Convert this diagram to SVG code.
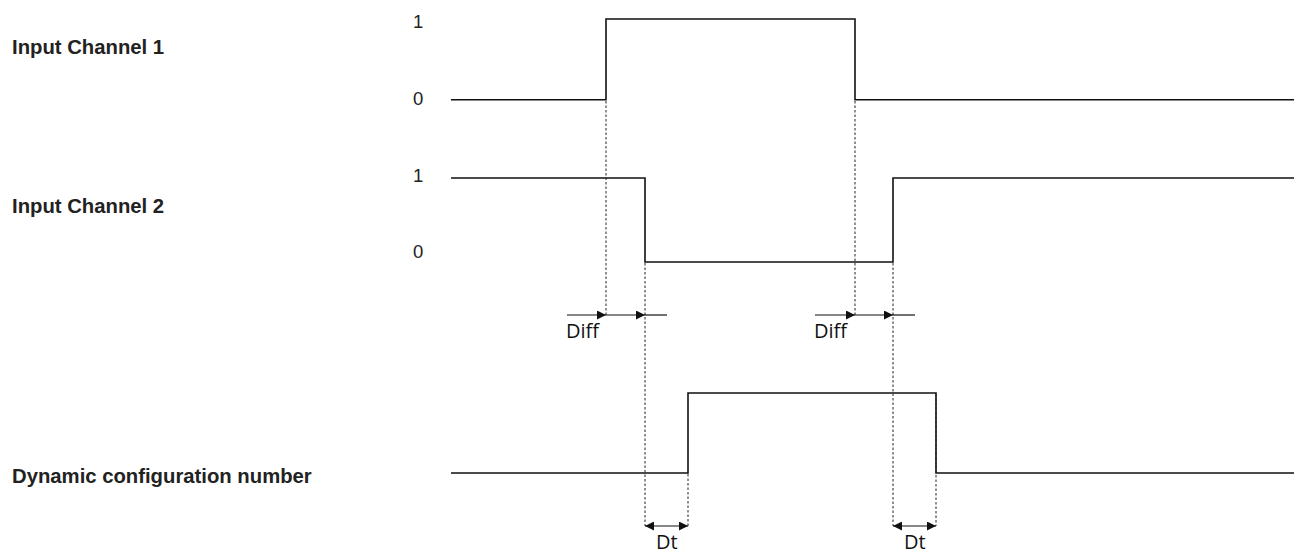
<svg xmlns="http://www.w3.org/2000/svg" width="1298" height="554" viewBox="0 0 1298 554">
<style>
.lbl{font-family:"Liberation Sans",Arial,sans-serif;font-weight:bold;font-size:20.3px;fill:#222}
.lvl{font-family:"Liberation Sans",Arial,sans-serif;font-size:18.5px;fill:#222}
.dim{font-family:"Open Sans","DejaVu Sans",sans-serif;font-size:20px;fill:#111}
.sig{fill:none;stroke:#111;stroke-width:1.6}
.dash{fill:none;stroke:#222;stroke-width:1;stroke-dasharray:2.5 2}
.arr{fill:none;stroke:#111;stroke-width:1.2}
</style>
<defs>
<marker id="ah" viewBox="0 0 10 10" refX="10" refY="5" markerWidth="9" markerHeight="9" markerUnits="userSpaceOnUse" orient="auto-start-reverse">
<path d="M0,0 L10,5 L0,10 Z" fill="#111"/>
</marker>
</defs>
<rect width="1298" height="554" fill="#fff"/>
<g id="ch1">
<text class="lbl" x="12" y="54">Input Channel 1</text>
<text class="lvl" x="413" y="28">1</text>
<text class="lvl" x="413" y="105">0</text>
<path class="sig" d="M451,99.8 H606 V19 H855 V99.8 H1294"/>
</g>
<g id="ch2">
<text class="lbl" x="12" y="213">Input Channel 2</text>
<text class="lvl" x="413" y="182">1</text>
<text class="lvl" x="413" y="258">0</text>
<path class="sig" d="M451,178 H645 V262 H893 V178 H1294"/>
</g>
<g id="dyn">
<text class="lbl" x="12" y="483">Dynamic configuration number</text>
<path class="sig" d="M451,473 H688 V393 H936 V473 H1294"/>
</g>
<g id="connectors">
<path class="dash" d="M606,101 V315 M855,101 V315 M645,263 V526 M893,263 V526 M688,474 V526 M936,394 V526"/>
<path class="arr" d="M567,315 H606" marker-end="url(#ah)"/>
<path class="arr" d="M606,315 H645" marker-end="url(#ah)"/>
<path class="arr" d="M645,315 H667"/>
<path class="arr" d="M815,315 H855" marker-end="url(#ah)"/>
<path class="arr" d="M855,315 H893" marker-end="url(#ah)"/>
<path class="arr" d="M893,315 H915"/>
<path class="arr" d="M645,526 H688" marker-start="url(#ah)" marker-end="url(#ah)"/>
<path class="arr" d="M893,526 H936" marker-start="url(#ah)" marker-end="url(#ah)"/>
</g>
<g id="labels">
<text class="dim" x="566" y="338">Diff</text>
<text class="dim" x="814" y="338">Diff</text>
<text class="dim" x="656" y="549">Dt</text>
<text class="dim" x="904" y="549">Dt</text>
</g>
</svg>
